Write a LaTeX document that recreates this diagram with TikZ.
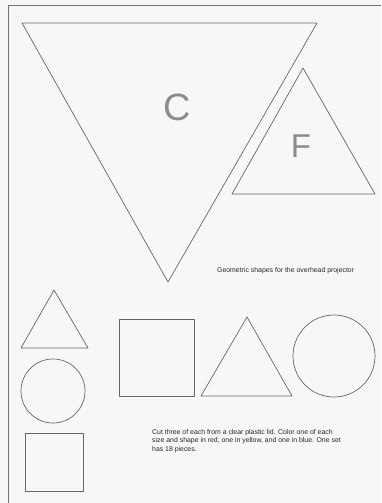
\documentclass[tikz,border=0pt]{standalone}
\usepackage{fontspec}
\setmainfont{Liberation Sans}
\begin{document}
\begin{tikzpicture}[x=1pt,y=-1pt,
  outl/.style={draw=black!60, line width=0.7pt, line join=round},
  frame/.style={draw=black!55, line width=0.8pt},
  bigletter/.style={text=black!45, font=\fontsize{38}{38}\selectfont, inner sep=0pt},
  smalltext/.style={text=black!85, font=\fontsize{6.9}{8.2}\selectfont, inner sep=0pt, align=left, anchor=west}]
\fill[black!3] (0,0) rectangle (381,503);
\useasboundingbox (0,0) rectangle (381,503);
% frame
\coordinate (fr1) at (381,5);
\coordinate (fr2) at (8,5);
\coordinate (fr3) at (8,503);
\draw[frame] (fr1) -- (fr2) -- (fr3);
% big triangle C
\draw[outl] (22,23) -- (317,23) -- (168,282) -- cycle;
\node[bigletter] (C) at (177,107) {C};
% triangle F
\draw[outl] (303,68) -- (375,194) -- (232,194) -- cycle;
\node[bigletter, font=\fontsize{33}{33}\selectfont] (F) at (301,146) {F};
% caption
\node[smalltext] (cap) at (217,271) {Geometric shapes for the overhead projector};
% small shapes left column
\draw[outl] (54,290) -- (88,348) -- (21,348) -- cycle;
\draw[outl] (53,391) circle (32);
\draw[outl] (25,433) rectangle (83,491);
% middle row
\draw[outl] (119,319) rectangle (194,396);
\draw[outl] (247,317) -- (292,396) -- (201,396) -- cycle;
\draw[outl] (334,356) circle (41);
% paragraph
\node[smalltext, anchor=north west] (par) at (152,429.5) {Cut three of each from a clear plastic lid. Color one of each\\size and shape in red, one in yellow, and one in blue. One set\\has 18 pieces.};
\end{tikzpicture}
\end{document}
